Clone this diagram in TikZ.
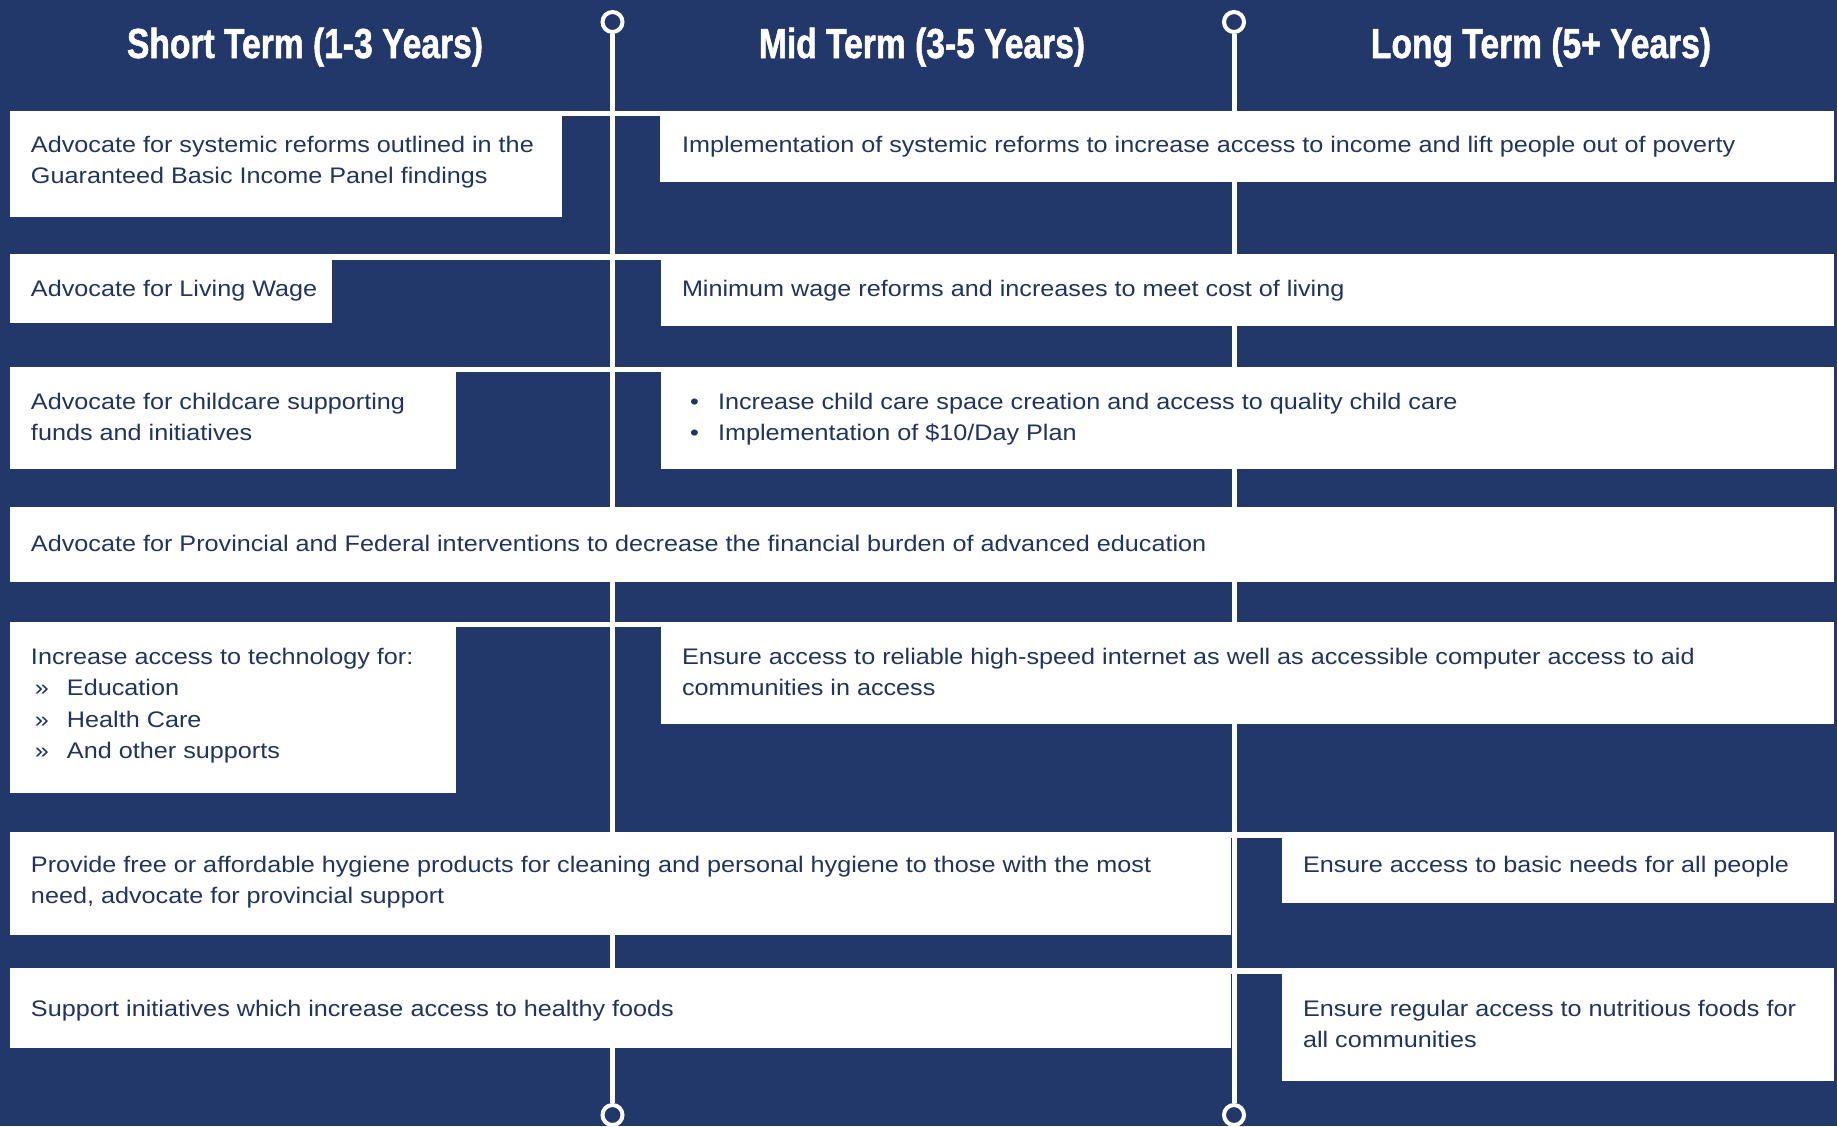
\documentclass[tikz,border=0pt]{standalone}
\usepackage{fontspec}
\setmainfont{Liberation Sans}[FakeStretch=1.12]
\newfontfamily\headfont{Liberation Sans}[FakeStretch=0.8,BoldFeatures={FakeBold=1.2}]
\usetikzlibrary{fit}
\definecolor{navy}{HTML}{22386A}
\definecolor{ink}{HTML}{1F3464}
\newcommand\tstr{\rule{0pt}{10pt}}
\begin{document}
\begin{tikzpicture}[x=0.5pt,y=-0.5pt,
  wbox/.style={fill=white,draw=none,inner sep=0pt},
  gutter/.style={fill=white},
  txt/.style={anchor=north west,inner sep=0pt,align=left,text=ink,
    font=\fontsize{11.25pt}{15.8pt}\selectfont},
  head/.style={anchor=base,text=white,inner sep=0pt,
    font=\headfont\bfseries\fontsize{21pt}{24pt}\selectfont},
  ring/.style={circle,draw=white,line width=2pt,fill=navy,minimum size=10pt,inner sep=0pt},
  vline/.style={draw=white,line width=2.5pt}]
\useasboundingbox (0,0) rectangle (1837,1126);
\fill[navy] (0,0) rectangle (1837,1126);
% horizontal gutters
\foreach \t/\b in {111/116,254/260,367/372,507/512,622/627,832/838,968/974}
  \fill[gutter] (10,\t) rectangle (1834,\b);
% timeline rings and lines
\node[ring] (c1t) at (612.5,22) {};
\node[ring] (c1b) at (612.5,1115) {};
\node[ring] (c2t) at (1234,22) {};
\node[ring] (c2b) at (1234,1115) {};
\draw[vline] (c1t) -- (c1b);
\draw[vline] (c2t) -- (c2b);
% headings
\node[head] (h1) at (305,58) {Short Term (1-3 Years)};
\node[head] (h2) at (922,58) {Mid Term (3-5 Years)};
\node[head] (h3) at (1541,58) {Long Term (5+ Years)};
% boxes
\node[wbox,fit={(10,111)(562,217)}] (b1s) {};
\node[wbox,fit={(660,111)(1834,182)}] (b1m) {};
\node[wbox,fit={(10,255)(332,323)}] (b2s) {};
\node[wbox,fit={(661,255)(1834,326)}] (b2m) {};
\node[wbox,fit={(10,367)(456,469)}] (b3s) {};
\node[wbox,fit={(661,367)(1834,469)}] (b3m) {};
\node[wbox,fit={(10,507)(1834,582)}] (b4) {};
\node[wbox,fit={(10,622)(456,793)}] (b5s) {};
\node[wbox,fit={(661,622)(1834,724)}] (b5m) {};
\node[wbox,fit={(10,832)(1231,935)}] (b6s) {};
\node[wbox,fit={(1282,838)(1834,903)}] (b6l) {};
\node[wbox,fit={(10,968)(1231,1048)}] (b7s) {};
\node[wbox,fit={(1282,974)(1834,1081)}] (b7l) {};
% texts
\node[txt] (t1s) at ([shift={(21,21)}]b1s.north west) {\tstr Advocate for systemic reforms outlined in the\\Guaranteed Basic Income Panel findings};
\node[txt] (t1m) at ([shift={(22,21)}]b1m.north west) {\tstr Implementation of systemic reforms to increase access to income and lift people out of poverty};
\node[txt] (t2s) at ([shift={(21,21)}]b2s.north west) {\tstr Advocate for Living Wage};
\node[txt] (t2m) at ([shift={(21,21)}]b2m.north west) {\tstr Minimum wage reforms and increases to meet cost of living};
\node[txt] (t3s) at ([shift={(21,22)}]b3s.north west) {\tstr Advocate for childcare supporting\\funds and initiatives};
\node[txt] (t3m) at ([shift={(21,22)}]b3m.north west) {\tstr\makebox[18pt][l]{\hspace{4pt}•}Increase child care space creation and access to quality child care\\\makebox[18pt][l]{\hspace{4pt}•}Implementation of \$10/Day Plan};
\node[txt] (t4) at ([shift={(21,24)}]b4.north west) {\tstr Advocate for Provincial and Federal interventions to decrease the financial burden of advanced education};
\node[txt] (t5s) at ([shift={(21,22)}]b5s.north west) {\tstr Increase access to technology for:\\\makebox[18pt][l]{\hspace{2pt}»}Education\\\makebox[18pt][l]{\hspace{2pt}»}Health Care\\\makebox[18pt][l]{\hspace{2pt}»}And other supports};
\node[txt] (t5m) at ([shift={(21,22)}]b5m.north west) {\tstr Ensure access to reliable high-speed internet as well as accessible computer access to aid\\communities in access};
\node[txt] (t6s) at ([shift={(21,20)}]b6s.north west) {\tstr Provide free or affordable hygiene products for cleaning and personal hygiene to those with the most\\need, advocate for provincial support};
\node[txt] (t6l) at ([shift={(21,14)}]b6l.north west) {\tstr Ensure access to basic needs for all people};
\node[txt] (t7s) at ([shift={(21,28)}]b7s.north west) {\tstr Support initiatives which increase access to healthy foods};
\node[txt] (t7l) at ([shift={(21,22)}]b7l.north west) {\tstr Ensure regular access to nutritious foods for\\all communities};
\end{tikzpicture}
\end{document}
